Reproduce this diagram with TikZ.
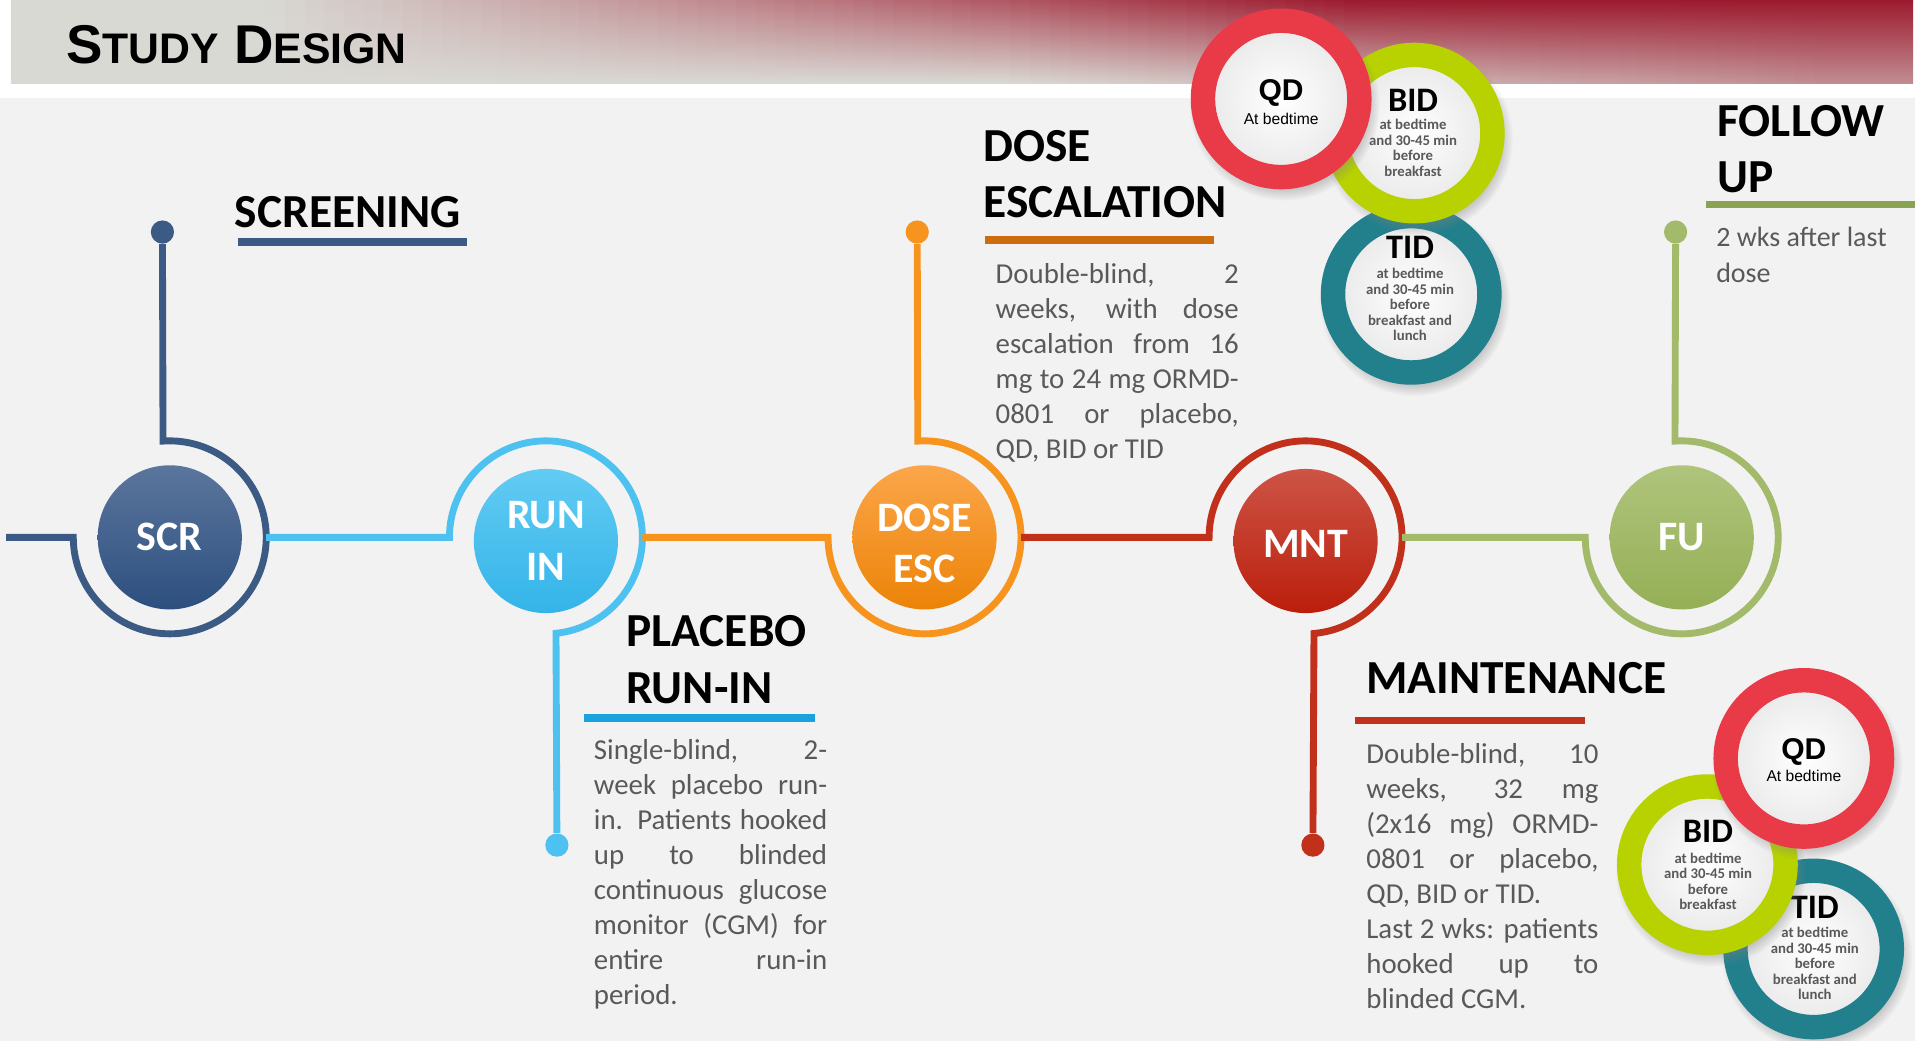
\documentclass[tikz,border=0pt]{standalone}
\usepackage{fontspec}
\setmainfont{Carlito}
\newfontfamily\arialfont{Liberation Sans}
\usetikzlibrary{calc,shadows,fadings}

\hyphenpenalty=10000
\exhyphenpenalty=10000
\hbadness=10000

\definecolor{bgcol}{HTML}{F2F2F2}
\definecolor{bandgray}{HTML}{D9D9D4}
\definecolor{bandred}{HTML}{9C1A2E}
\definecolor{textgray}{HTML}{595959}
\definecolor{scrblue}{HTML}{3B5B85}
\definecolor{scrtop}{HTML}{5B769D}
\definecolor{scrbot}{HTML}{2D4F7F}
\definecolor{runblue}{HTML}{4DC1EF}
\definecolor{runtop}{HTML}{62CBF3}
\definecolor{runbot}{HTML}{34B4E9}
\definecolor{runline}{HTML}{1BA1DB}
\definecolor{doseorange}{HTML}{F7941D}
\definecolor{dosetop}{HTML}{FBA64A}
\definecolor{dosebot}{HTML}{EC8307}
\definecolor{doseline}{HTML}{CC6D0D}
\definecolor{mntred}{HTML}{C1301A}
\definecolor{mnttop}{HTML}{CD5446}
\definecolor{mntbot}{HTML}{BB1E0B}
\definecolor{mntline}{HTML}{C0301C}
\definecolor{fugreen}{HTML}{A2BA6A}
\definecolor{futop}{HTML}{AFC47C}
\definecolor{fubot}{HTML}{95AF56}
\definecolor{fuline}{HTML}{8AA352}
\definecolor{pillred}{HTML}{E93A48}
\definecolor{pillgreen}{HTML}{B7D200}
\definecolor{pillteal}{HTML}{22808D}

\newcommand\minicaps[1]{{\fontsize{24.9}{30}\selectfont #1}}

\tikzset{
  phase/.style={circle, minimum size=2.95cm, inner sep=0pt, text=white, align=center,
    font=\fontsize{24.4}{30}\selectfont\bfseries},
  ring/.style={line width=4pt},
  enddot/.style={circle, minimum size=0.475cm, inner sep=0pt},
  heading/.style={anchor=base west, inner sep=0pt, align=left,
    font=\fontsize{27.6}{33}\selectfont\bfseries},
  underline/.style={line width=4.5pt},
  bodytext/.style={anchor=base west, inner sep=0pt, align=justify, text=textgray,
    font=\fontsize{16.8}{20.4}\selectfont},
  pill/.style={circle, minimum size=3.2cm, line width=0.5cm, inner sep=0pt,
    inner color=white, outer color=black!9,
    circular drop shadow={shadow scale=1.22, shadow xshift=1.5pt, shadow yshift=-3pt, opacity=0.45}},
  pillhead/.style={anchor=base, inner sep=0pt, font=\fontsize{20}{24}\selectfont\bfseries},
  pillnote/.style={anchor=base, inner sep=0pt, align=center, text=textgray,
    font=\fontsize{8.6}{9}\selectfont\bfseries},
  qdhead/.style={anchor=base, inner sep=0pt, font=\arialfont\bfseries\fontsize{17.5}{20}\selectfont},
  qdnote/.style={anchor=base, inner sep=0pt, font=\arialfont\fontsize{9.1}{11}\selectfont},
}

\begin{document}
\begin{tikzpicture}[x=0.025cm, y=0.025cm]
\useasboundingbox (0,0) rectangle (1568,852);

% Drawing page and header band
\fill[white] (0,0) rectangle (1568,852);
\fill[bgcol] (0,0) rectangle (1568,772);
\foreach \i in {0,...,96}{
  \pgfmathsetmacro\xa{9+\i*16.05}
  \pgfmathtruncatemacro\wt{min(100,max(0,(\xa-200)/9))}
  \pgfmathtruncatemacro\wb{min(40,max(0,(\xa-800)/17))}
  \colorlet{bandtop}{bandred!\wt!bandgray}
  \colorlet{bandbot}{bandred!\wb!bandgray}
  \shade[top color=bandtop, bottom color=bandbot] (\xa,784) rectangle ++(16.6,68);
}

% Marking title
\node[anchor=base west, inner sep=0pt, font=\arialfont\bfseries\fontsize{31.8}{38}\selectfont]
  (title) at (54,800) {S\minicaps{TUDY} D\minicaps{ESIGN}};

% Drawing phases
\node[phase, top color=scrtop, bottom color=scrbot] (scr) at (139,412) {SCR};
\node[phase, top color=runtop, bottom color=runbot] (runin) at (447,409) {RUN\\IN};
\node[phase, top color=dosetop, bottom color=dosebot, text height=53pt, text depth=0pt] (dose) at (757,412) {DOSE\\ESC};
\node[phase, top color=mnttop, bottom color=mntbot, text height=19.5pt, text depth=0pt] (mnt) at (1069,409) {MNT};
\node[phase, top color=futop, bottom color=fubot] (fu) at (1377,412) {FU};

% Drawing end dots
\node[enddot, fill=scrblue] (scrdot) at (133,662) {};
\node[enddot, fill=runblue] (runindot) at (456,160) {};
\node[enddot, fill=doseorange] (dosedot) at (751,662) {};
\node[enddot, fill=mntred] (mntdot) at (1075,160) {};
\node[enddot, fill=fugreen] (fudot) at (1372,662) {};

% Drawing rings and lines
\coordinate (lineL) at (5,412);
\draw[ring, scrblue] (lineL) -- ($(scr)+(-79,0)$) arc[start angle=180, end angle=454, radius=79] -- (scrdot);
\draw[ring, runblue] ($(scr)+(79,0)$) -- ($(runin)+(-79,3)$) arc[start angle=180, end angle=-84, radius=79] -- (runindot);
\draw[ring, doseorange] ($(runin)+(79,3)$) -- ($(dose)+(-79,0)$) arc[start angle=180, end angle=454, radius=79] -- (dosedot);
\draw[ring, mntred] ($(dose)+(79,0)$) -- ($(mnt)+(-79,3)$) arc[start angle=180, end angle=-85, radius=79] -- (mntdot);
\draw[ring, fugreen] ($(mnt)+(79,3)$) -- ($(fu)+(-79,0)$) arc[start angle=180, end angle=454, radius=79] -- (fudot);

% Marking headings
\node[heading] (scrhead) at (192,666) {SCREENING};
\draw[underline, scrblue] (195,654) -- (382,654);
\node[heading] (runhead) at (512.6,276) {PLACEBO\\RUN-IN};
\draw[underline, runline] (478,264) -- (667,264);
\node[heading] (dosehead) at (805,673.5) {DOSE\\ESCALATION};
\draw[underline, doseline] (806.5,655.5) -- (994,655.5);
\node[heading] (mnthead) at (1118.5,284) {MAINTENANCE};
\draw[underline, mntline] (1109.5,262) -- (1298,262);
\node[heading] (fuhead) at (1406,694) {FOLLOW\\UP};
\draw[underline, fuline] (1397,684.5) -- (1568,684.5);

% Marking phase texts
\node[bodytext, text width=4.775cm] (runtext) at (486,230) {Single-blind, 2-\linebreak week placebo run-\linebreak in. Patients hooked\linebreak up to blinded\linebreak continuous glucose\linebreak monitor (CGM) for\linebreak entire run-in\linebreak period.};
\node[bodytext, text width=4.975cm] (dosetext) at (815,620) {Double-blind, 2\linebreak weeks, with dose\linebreak escalation from 16\linebreak mg to 24 mg ORMD-\linebreak 0801 or placebo,\linebreak QD, BID or TID};
\node[bodytext, text width=4.75cm] (mnttext) at (1118.5,227) {Double-blind, 10\linebreak weeks, 32 mg\linebreak (2x16 mg) ORMD-\linebreak 0801 or placebo,\linebreak QD, BID or TID.\par Last 2 wks: patients\linebreak hooked up to\linebreak blinded CGM.};
\node[bodytext, align=left, font=\fontsize{16.3}{20.6}\selectfont] (futext) at (1405,621) {2 wks after last\\dose};

% Drawing dosing pills, top
\node[pill, draw=pillteal] (tidtop) at (1155.5,611) {};
\node[pillhead] (tidtophead) at (1154.5,640.5) {TID};
\node[pillnote] (tidtopnote) at (1154.5,573) {at bedtime\\and 30-45 min\\before\\breakfast and\\lunch};
\node[pill, draw=pillgreen] (bidtop) at (1158,743) {};
\node[pillhead] (bidtophead) at (1157,761) {BID};
\node[pillnote] (bidtopnote) at (1157,707.7) {at bedtime\\and 30-45 min\\before\\breakfast};
\node[pill, draw=pillred] (qdtop) at (1049,771) {};
\node[qdhead] (qdtophead) at (1049,769.5) {QD};
\node[qdnote] (qdtopnote) at (1049,750) {At bedtime};

% Drawing dosing pills, bottom
\node[pill, draw=pillteal] (tidbot) at (1485,75) {};
\node[pillhead] (tidbothead) at (1486,100) {TID};
\node[pillnote] (tidbotnote) at (1486,33.6) {at bedtime\\and 30-45 min\\before\\breakfast and\\lunch};
\node[pill, draw=pillgreen] (bidbot) at (1398,144) {};
\node[pillhead] (bidbothead) at (1398.5,162) {BID};
\node[pillnote] (bidbotnote) at (1398.5,107.2) {at bedtime\\and 30-45 min\\before\\breakfast};
\node[pill, draw=pillred] (qdbot) at (1477,231) {};
\node[qdhead] (qdbothead) at (1477,230.5) {QD};
\node[qdnote] (qdbotnote) at (1477,212) {At bedtime};
\end{tikzpicture}
\end{document}
